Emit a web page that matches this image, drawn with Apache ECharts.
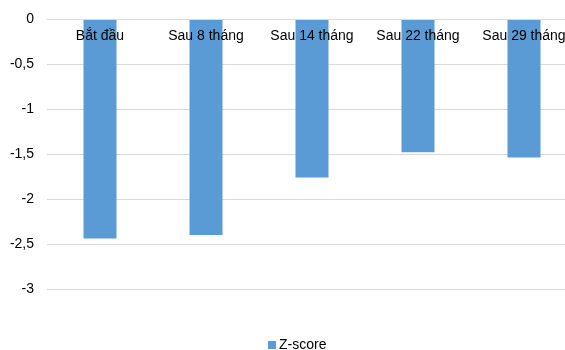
<!DOCTYPE html>
<html>
<head>
<meta charset="utf-8">
<script src="https://cdn.jsdelivr.net/npm/echarts@6/dist/echarts.min.js"></script>
<style>
  html, body { margin: 0; padding: 0; background: #fff; overflow: hidden; }
  #main { width: 577px; height: 350px; }
</style>
</head>
<body>
<div id="main"></div>
<script>
// dữ liệu
var categories = ['Bắt đầu', 'Sau 8 tháng', 'Sau 14 tháng', 'Sau 22 tháng', 'Sau 29 tháng'];
var zscore = [-2.44, -2.40, -1.76, -1.48, -1.54];

// vùng vẽ rộng hơn cửa sổ một chút, cột cuối bị cắt giống ảnh gốc
var chart = echarts.init(document.getElementById('main'));

var option = {
    animation: false,
    textStyle: { fontFamily: 'Liberation Sans, Arial, sans-serif' },
    grid: {
        left: 47,
        right: 0,
        top: 19,
        bottom: 61
    },
    legend: {
        data: ['Z-score'],
        top: 333,
        left: 263,
        itemWidth: 8,
        itemHeight: 8,
        itemGap: 4,
        icon: 'rect',
        textStyle: { color: '#000', fontSize: 14, padding: [0, 0, 0, -2] }
    },
    xAxis: {
        type: 'category',
        position: 'top',
        data: categories,
        z: 10,
        axisLine: { show: true, lineStyle: { color: '#d9d9d9', width: 1 } },
        axisTick: { show: false },
        axisLabel: {
            inside: true,
            interval: 0,
            hideOverlap: false,
            margin: 10,
            color: '#000',
            fontSize: 14
        }
    },
    yAxis: {
        type: 'value',
        min: -3,
        max: 0,
        interval: 0.5,
        axisLine: { show: false },
        axisTick: { show: false },
        axisLabel: {
            margin: 13,
            color: '#000',
            fontSize: 14,
            formatter: function (v) {
                return String(v).replace('.', ',');
            }
        },
        splitLine: { lineStyle: { color: '#d9d9d9', width: 1 } }
    },
    series: [{
        name: 'Z-score',
        type: 'bar',
        data: zscore,
        barWidth: 33,
        itemStyle: { color: '#5b9bd5' }
    }]
};

chart.setOption(option);
</script>
</body>
</html>
